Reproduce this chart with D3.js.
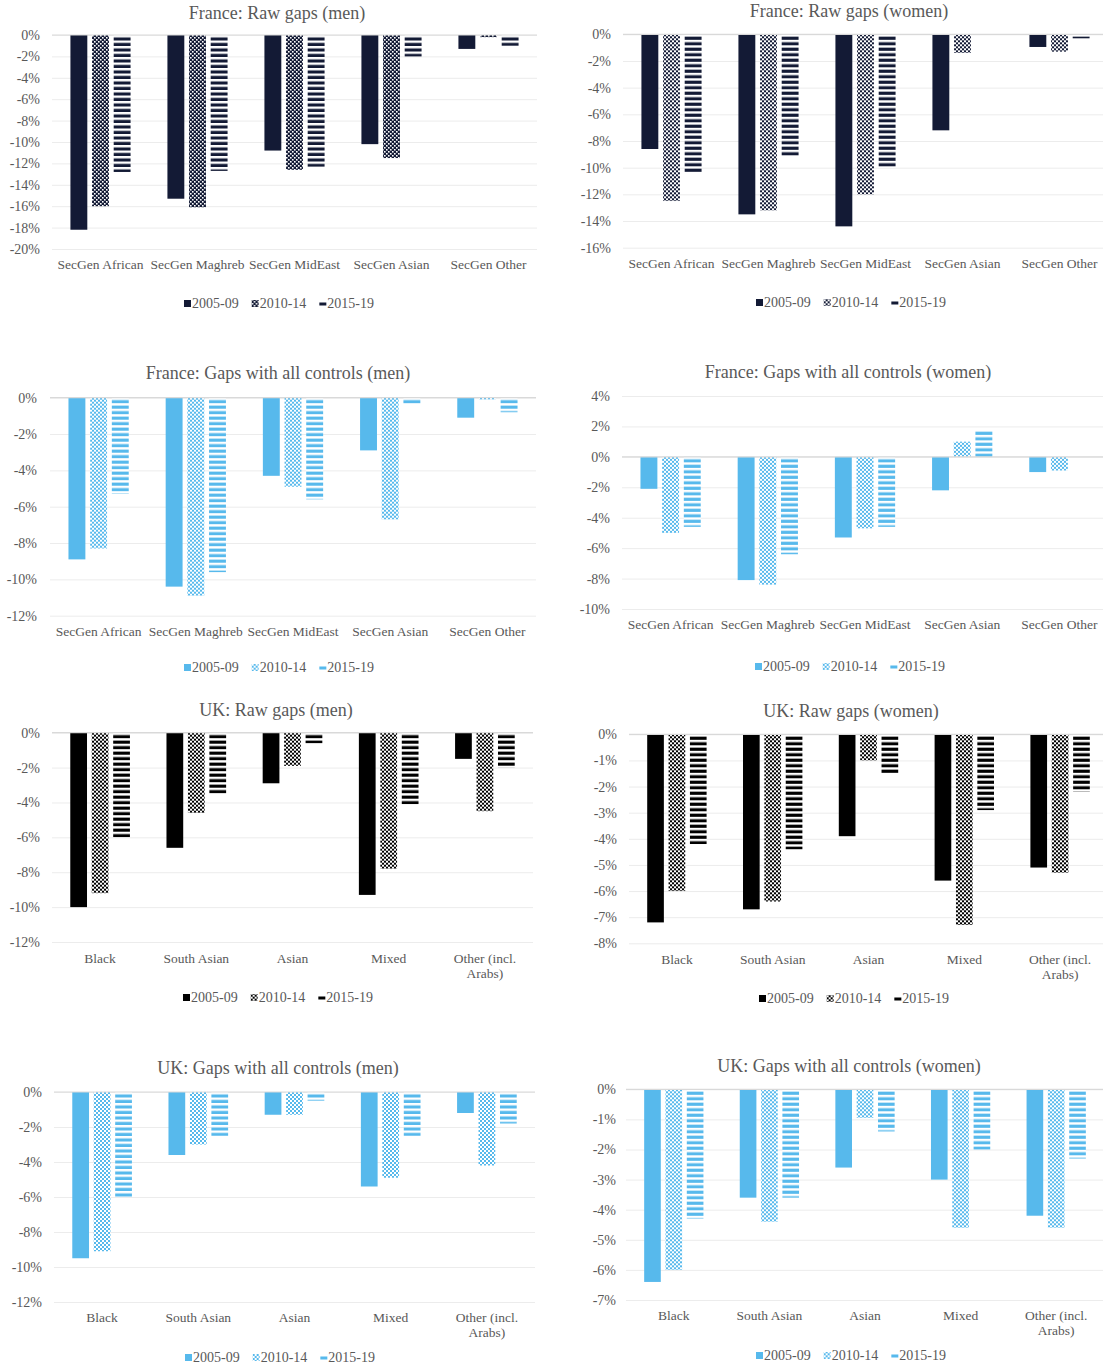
<!DOCTYPE html>
<html>
<head>
<meta charset="utf-8">
<script src="https://cdn.jsdelivr.net/npm/d3@7"></script>
<style>
  body { margin: 0; background: #ffffff; }
  svg { display: block; }
</style>
</head>
<body>
<script>
// ---- Data (gaps in %, relative to the majority group) ----
const seriesNames = ["2005-09", "2010-14", "2015-19"];
const franceCategories = ["SecGen African", "SecGen Maghreb", "SecGen MidEast", "SecGen Asian", "SecGen Other"];
const ukCategories = ["Black", "South Asian", "Asian", "Mixed", "Other (incl. Arabs)"];

// France: raw gaps (men)
const frRawMen0509 = [-18.2, -15.3, -10.8, -10.2, -1.3];
const frRawMen1014 = [-16.0, -16.1, -12.6, -11.5, -0.2];
const frRawMen1519 = [-12.8, -12.7, -12.3, -2.0, -1.0];
// France: raw gaps (women)
const frRawWomen0509 = [-8.6, -13.5, -14.4, -7.2, -0.95];
const frRawWomen1014 = [-12.5, -13.2, -12.0, -1.4, -1.3];
const frRawWomen1519 = [-10.4, -9.2, -10.0, 0, -0.3];
// France: gaps with all controls (men)
const frCtrlMen0509 = [-8.9, -10.4, -4.3, -2.9, -1.1];
const frCtrlMen1014 = [-8.3, -10.9, -4.9, -6.7, -0.1];
const frCtrlMen1519 = [-5.3, -9.6, -5.6, -0.4, -0.8];
// France: gaps with all controls (women)
const frCtrlWomen0509 = [-2.1, -8.1, -5.3, -2.2, -1.0];
const frCtrlWomen1014 = [-5.0, -8.4, -4.7, 1.0, -0.9];
const frCtrlWomen1519 = [-4.6, -6.4, -4.6, 1.7, 0];
// UK: raw gaps (men)
const ukRawMen0509 = [-10.0, -6.6, -2.9, -9.3, -1.5];
const ukRawMen1014 = [-9.2, -4.6, -1.9, -7.8, -4.5];
const ukRawMen1519 = [-6.0, -3.5, -0.6, -4.1, -2.0];
// UK: raw gaps (women)
const ukRawWomen0509 = [-7.2, -6.7, -3.9, -5.6, -5.1];
const ukRawWomen1014 = [-6.0, -6.4, -1.0, -7.3, -5.3];
const ukRawWomen1519 = [-4.2, -4.4, -1.5, -2.9, -2.2];
// UK: gaps with all controls (men)
const ukCtrlMen0509 = [-9.5, -3.6, -1.3, -5.4, -1.2];
const ukCtrlMen1014 = [-9.1, -3.0, -1.3, -4.9, -4.2];
const ukCtrlMen1519 = [-6.0, -2.5, -0.5, -2.5, -1.8];
// UK: gaps with all controls (women)
const ukCtrlWomen0509 = [-6.4, -3.6, -2.6, -3.0, -4.2];
const ukCtrlWomen1014 = [-6.0, -4.4, -0.95, -4.6, -4.6];
const ukCtrlWomen1519 = [-4.3, -3.6, -1.4, -2.0, -2.3];

// Axis tick values (%)
const frRawMenTicks = [0, -2, -4, -6, -8, -10, -12, -14, -16, -18, -20];
const frRawWomenTicks = [0, -2, -4, -6, -8, -10, -12, -14, -16];
const frCtrlMenTicks = [0, -2, -4, -6, -8, -10, -12];
const frCtrlWomenTicks = [4, 2, 0, -2, -4, -6, -8, -10];
const ukRawMenTicks = [0, -2, -4, -6, -8, -10, -12];
const ukRawWomenTicks = [0, -1, -2, -3, -4, -5, -6, -7, -8];
const ukCtrlMenTicks = [0, -2, -4, -6, -8, -10, -12];
const ukCtrlWomenTicks = [0, -1, -2, -3, -4, -5, -6, -7];

// ---- Styling ----
const FONT = "'Liberation Serif', 'Times New Roman', serif";
const TEXT = "#595959";
const GRID = "#ececec";
const ZERO = "#d9d9d9";
const NAVY = "#131a35";
const BLACK = "#000000";
const BLUE = "#57b9ec";
const LABEL_SIZE = 14;
const CAT_SIZE = 13.5;
const TITLE_SIZE = 18;

// ---- Panel layout ----
const panels = [
  { id: "p1", title: "France: Raw gaps (men)", cats: franceCategories,
    series: [frRawMen0509, frRawMen1014, frRawMen1519], ticks: frRawMenTicks,
    color: NAVY, mid: "dots",
    x0: 52, x1: 537, yTop: 35, yBot: 249, tickRight: 40,
    titleX: 277, titleY: 19, catY: 269, legendX: 279, legendY: 308, wrap: null },
  { id: "p2", title: "France: Raw gaps (women)", cats: franceCategories,
    series: [frRawWomen0509, frRawWomen1014, frRawWomen1519], ticks: frRawWomenTicks,
    color: NAVY, mid: "checker",
    x0: 623, x1: 1108, yTop: 34.3, yBot: 247.7, tickRight: 611,
    titleX: 849, titleY: 17, catY: 268, legendX: 851, legendY: 307, wrap: null },
  { id: "p3", title: "France: Gaps with all controls (men)", cats: franceCategories,
    series: [frCtrlMen0509, frCtrlMen1014, frCtrlMen1519], ticks: frCtrlMenTicks,
    color: BLUE, mid: "checker",
    x0: 50, x1: 536, yTop: 397.7, yBot: 615.7, tickRight: 37,
    titleX: 278, titleY: 379, catY: 636, legendX: 279, legendY: 672, wrap: null },
  { id: "p4", title: "France: Gaps with all controls (women)", cats: franceCategories,
    series: [frCtrlWomen0509, frCtrlWomen1014, frCtrlWomen1519], ticks: frCtrlWomenTicks,
    color: BLUE, mid: "checker",
    x0: 622, x1: 1108, yTop: 396, yBot: 609, tickRight: 610,
    titleX: 848, titleY: 378, catY: 629, legendX: 850, legendY: 671, wrap: null },
  { id: "p5", title: "UK: Raw gaps (men)", cats: ukCategories,
    series: [ukRawMen0509, ukRawMen1014, ukRawMen1519], ticks: ukRawMenTicks,
    color: BLACK, mid: "checker",
    x0: 52, x1: 533, yTop: 732.7, yBot: 942, tickRight: 40,
    titleX: 276, titleY: 716, catY: 963, legendX: 278, legendY: 1002, wrap: 80 },
  { id: "p6", title: "UK: Raw gaps (women)", cats: ukCategories,
    series: [ukRawWomen0509, ukRawWomen1014, ukRawWomen1519], ticks: ukRawWomenTicks,
    color: BLACK, mid: "checker",
    x0: 629, x1: 1108, yTop: 734.3, yBot: 943.3, tickRight: 617,
    titleX: 851, titleY: 717, catY: 964, legendX: 854, legendY: 1003, wrap: 80 },
  { id: "p7", title: "UK: Gaps with all controls (men)", cats: ukCategories,
    series: [ukCtrlMen0509, ukCtrlMen1014, ukCtrlMen1519], ticks: ukCtrlMenTicks,
    color: BLUE, mid: "checker",
    x0: 54, x1: 535, yTop: 1092, yBot: 1302, tickRight: 42,
    titleX: 278, titleY: 1074, catY: 1322, legendX: 280, legendY: 1362, wrap: 80 },
  { id: "p8", title: "UK: Gaps with all controls (women)", cats: ukCategories,
    series: [ukCtrlWomen0509, ukCtrlWomen1014, ukCtrlWomen1519], ticks: ukCtrlWomenTicks,
    color: BLUE, mid: "checker",
    x0: 626, x1: 1104, yTop: 1089.3, yBot: 1300, tickRight: 616,
    titleX: 849, titleY: 1072, catY: 1320, legendX: 851, legendY: 1360, wrap: 80 }
];

const svg = d3.select("body").append("svg")
  .attr("width", 1103).attr("height", 1366)
  .attr("font-family", FONT);
const defs = svg.append("defs");

// Fill patterns for the 2010-14 (textured) and 2015-19 (striped) series
function makePatterns(p, y0) {
  const mid = defs.append("pattern")
    .attr("id", p.id + "-mid").attr("patternUnits", "userSpaceOnUse")
    .attr("x", 0).attr("y", y0).attr("width", 4).attr("height", 4);
  if (p.mid === "dots") {
    mid.append("rect").attr("width", 4).attr("height", 4).attr("fill", p.color);
    mid.append("rect").attr("x", 0).attr("y", 0).attr("width", 1.6).attr("height", 1.6).attr("fill", "#ffffff");
    mid.append("rect").attr("x", 2).attr("y", 2).attr("width", 1.6).attr("height", 1.6).attr("fill", "#ffffff");
  } else {
    mid.append("rect").attr("width", 4).attr("height", 4).attr("fill", "#ffffff");
    mid.append("rect").attr("x", 0).attr("y", 0).attr("width", 2).attr("height", 2).attr("fill", p.color);
    mid.append("rect").attr("x", 2).attr("y", 2).attr("width", 2).attr("height", 2).attr("fill", p.color);
  }
  const stripe = defs.append("pattern")
    .attr("id", p.id + "-stripe").attr("patternUnits", "userSpaceOnUse")
    .attr("x", 0).attr("y", y0).attr("width", 8).attr("height", 5.5);
  stripe.append("rect").attr("width", 8).attr("height", 5.5).attr("fill", "#ffffff");
  stripe.append("rect").attr("y", 2.4).attr("width", 8).attr("height", 3.1).attr("fill", p.color);
}

// Break long category names onto several centred lines
function wrapText(sel, maxWidth, lineHeight) {
  sel.each(function () {
    const t = d3.select(this);
    const words = t.text().split(/\s+/);
    t.text(null);
    let line = [];
    let n = 0;
    let tspan = t.append("tspan").attr("x", 0).attr("y", 0);
    for (const w of words) {
      line.push(w);
      tspan.text(line.join(" "));
      if (tspan.node().getComputedTextLength() > maxWidth && line.length > 1) {
        line.pop();
        tspan.text(line.join(" "));
        line = [w];
        n += 1;
        tspan = t.append("tspan").attr("x", 0).attr("y", n * lineHeight).text(w);
      }
    }
  });
}

panels.forEach(p => {
  const y = d3.scaleLinear()
    .domain([d3.min(p.ticks), d3.max(p.ticks)])
    .range([p.yBot, p.yTop]);
  const x = d3.scaleBand().domain(p.cats).range([p.x0, p.x1]).padding(0);
  const band = x.bandwidth();
  const groupW = band * 0.62;
  const xs = d3.scaleBand().domain(seriesNames)
    .range([(band - groupW) / 2, (band + groupW) / 2])
    .paddingInner(0.22);

  const zeroY = y(0);
  const right = Math.min(p.x1, 1103);
  makePatterns(p, zeroY);
  const fills = [p.color, `url(#${p.id}-mid)`, `url(#${p.id}-stripe)`];

  const g = svg.append("g");

  // title
  g.append("text")
    .attr("x", p.titleX).attr("y", p.titleY)
    .attr("text-anchor", "middle")
    .attr("font-size", TITLE_SIZE).attr("fill", TEXT)
    .text(p.title);

  // value axis with gridlines
  const yAxis = d3.axisLeft(y)
    .tickValues(p.ticks)
    .tickFormat(d => d + "%")
    .tickSize(-(right - p.x0))
    .tickPadding(p.x0 - p.tickRight);
  const ax = g.append("g").attr("transform", `translate(${p.x0},0)`).call(yAxis);
  ax.attr("font-family", FONT).attr("font-size", LABEL_SIZE);
  ax.select(".domain").remove();
  ax.selectAll(".tick line").attr("stroke", GRID).attr("stroke-width", 1);
  ax.selectAll(".tick text").attr("fill", TEXT);

  // bars
  seriesNames.forEach((s, si) => {
    g.append("g").selectAll("rect")
      .data(p.series[si].map((v, i) => ({ cat: p.cats[i], v })))
      .join("rect")
      .attr("x", d => x(d.cat) + xs(s))
      .attr("width", xs.bandwidth())
      .attr("y", d => Math.min(y(d.v), zeroY))
      .attr("height", d => Math.abs(y(d.v) - zeroY))
      .attr("fill", fills[si]);
  });

  // zero line drawn over the bars
  g.append("line")
    .attr("x1", p.x0).attr("x2", right)
    .attr("y1", zeroY).attr("y2", zeroY)
    .attr("stroke", ZERO).attr("stroke-width", 1.2);

  // category axis
  const xAxis = d3.axisBottom(x).tickSize(0).tickPadding(0);
  const cx = g.append("g").attr("transform", `translate(0,${p.catY})`).call(xAxis);
  cx.attr("font-family", FONT).attr("font-size", CAT_SIZE);
  cx.select(".domain").remove();
  cx.selectAll(".tick text")
    .attr("x", 0).attr("y", 0).attr("dy", null)
    .attr("fill", TEXT);
  if (p.wrap) wrapText(cx.selectAll(".tick text"), p.wrap, 15);

  // legend
  const lg = g.append("g");
  let cursor = 0;
  seriesNames.forEach((s, si) => {
    const it = lg.append("g");
    if (si === 2) {
      it.append("rect").attr("x", 0).attr("y", -5.5).attr("width", 7).attr("height", 3).attr("fill", p.color);
    } else {
      it.append("rect").attr("x", 0).attr("y", -8).attr("width", 7).attr("height", 7).attr("fill", fills[si]);
    }
    const t = it.append("text").attr("x", 8).attr("y", 0)
      .attr("font-size", LABEL_SIZE).attr("fill", TEXT).text(s);
    const w = 8 + t.node().getComputedTextLength();
    it.attr("transform", `translate(${cursor},0)`);
    cursor += w + 13;
  });
  const totalW = cursor - 13;
  lg.attr("transform", `translate(${p.legendX - totalW / 2},${p.legendY})`);
});
</script>
</body>
</html>
